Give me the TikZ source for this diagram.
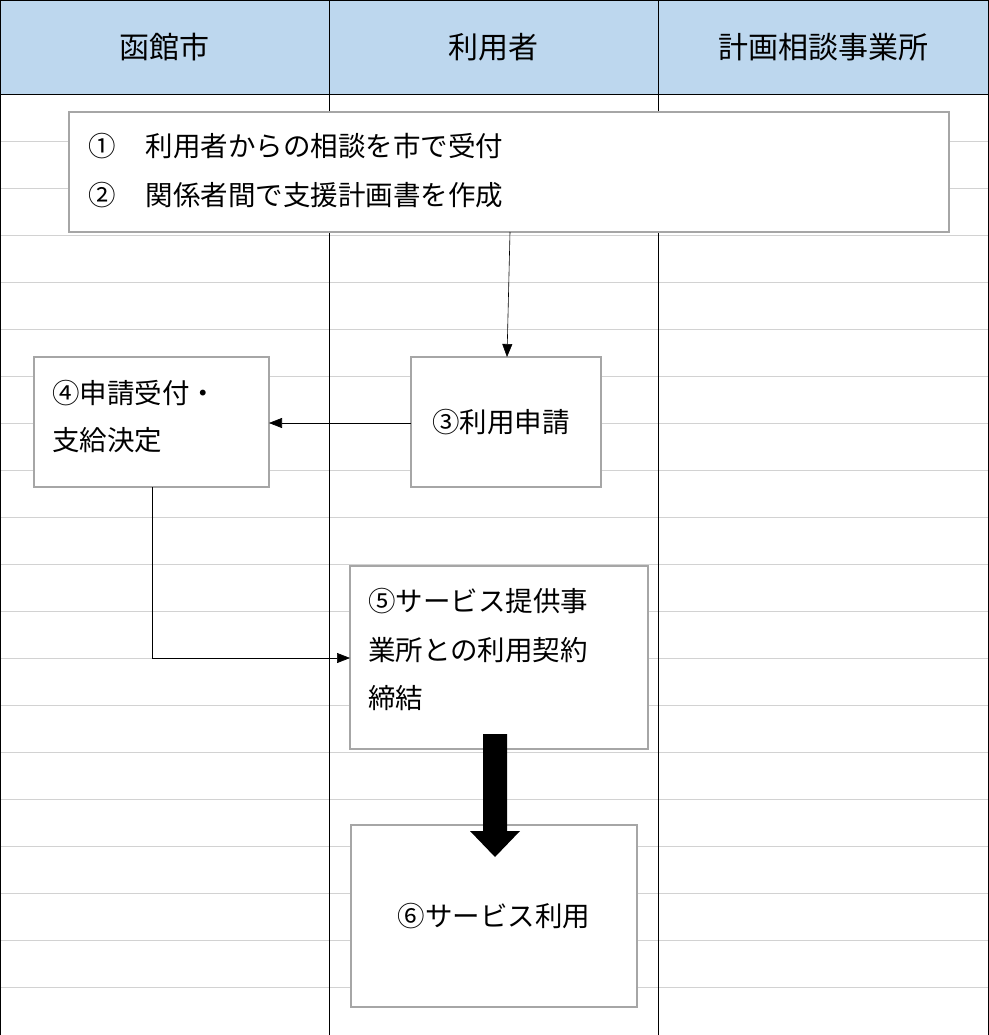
\documentclass[tikz,border=0pt]{standalone}
\usepackage{fontspec}
\setmainfont{Noto Sans CJK JP}
\usetikzlibrary{arrows.meta}
\begin{document}
\begin{tikzpicture}[x=1pt,y=-1pt,
  box/.style={draw=gray!70,line width=1.2pt,fill=white},
  txt/.style={font=\fontsize{27.5}{31}\selectfont,anchor=west,inner sep=0},
  conn/.style={-{Triangle[length=13pt,width=10pt]},line width=0.6pt}]
\useasboundingbox (0,0) rectangle (988,1035);
\fill[fill={rgb,255:red,189;green,215;blue,238}] (0,0) rectangle (988,94);
\foreach \y in {141,188,...,1000} \draw[gray!35,line width=0.6pt] (0,\y) -- (988,\y);
\draw[line width=0.8pt] (0,0) rectangle (988,1035);
\draw[line width=0.8pt] (0,94) -- (988,94);
\draw[line width=0.8pt] (329,0) -- (329,1035) (658,0) -- (658,1035);
\node[font=\fontsize{30}{34}\selectfont] (h1) at (164,47) {函館市};
\node[font=\fontsize{30}{34}\selectfont] (h2) at (493,47) {利用者};
\node[font=\fontsize{30}{34}\selectfont] (h3) at (823,47) {計画相談事業所};
% boxes
\draw[box] (69,112) rectangle (949,232);
\node[txt] (t1) at (88,146) {①\hspace{30pt}利用者からの相談を市で受付};
\node[txt] (t2) at (88,195) {②\hspace{30pt}関係者間で支援計画書を作成};
\coordinate (b1s) at (510,232);
\draw[box] (34,357) rectangle (269,487);
\node[txt] at (52,393) {④申請受付・};
\node[txt] at (52,440) {支給決定};
\coordinate (b4e) at (269,423); \coordinate (b4s) at (152,487);
\draw[box] (411,357) rectangle (601,487);
\node[txt,anchor=center] at (501,422) {③利用申請};
\coordinate (b3n) at (507,357); \coordinate (b3w) at (411,423);
\draw[box] (350,566) rectangle (648,749);
\node[txt] at (368,601) {⑤サービス提供事};
\node[txt] at (368,650) {業所との利用契約};
\node[txt] at (368,698) {締結};
\coordinate (b5w) at (350,658);
\draw[box] (351,825) rectangle (637,1007);
\node[txt,anchor=center] at (494,916) {⑥サービス利用};
% connectors
\draw[conn] (b1s) -- (b3n);
\draw[conn] (b3w) -- (b4e);
\draw[conn] (b4s) |- (b5w);
\fill (483,734) -- (507,734) -- (507,831) -- (520,831) -- (495,857) -- (470,831) -- (483,831) -- cycle;
\end{tikzpicture}
\end{document}
